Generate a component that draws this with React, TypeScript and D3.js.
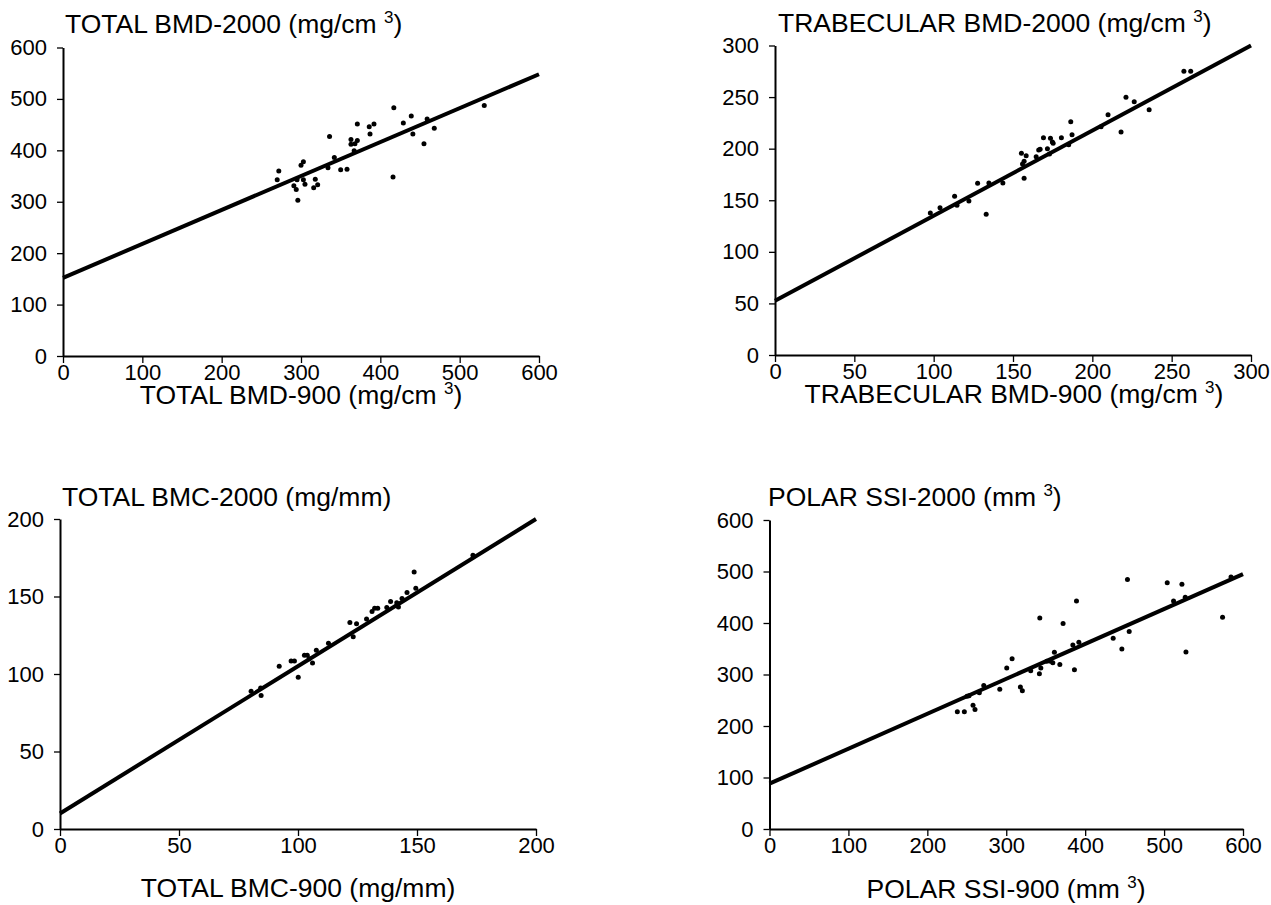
import * as d3 from "d3";
import React, { useEffect, useRef } from "react";

// total BMD (mg/cm3), 900 vs 2000
const totalBmd900 = [417, 531, 439, 429, 459, 371, 386, 392, 387, 441, 468, 336, 363, 371, 363, 368, 455, 342, 303, 300, 334, 350, 358, 272, 270, 295, 303, 318, 291, 305, 321, 294, 316, 296, 416, 367];
const totalBmd2000 = [483, 487, 467, 453, 461, 451, 446, 451, 432, 432, 443, 427, 421, 419, 412, 413, 413, 386, 378, 371, 366, 362, 363, 360, 343, 343, 343, 344, 331, 334, 333, 324, 327, 303, 348, 399];
const totalBmdFit = [[0, 152], [600, 548]];

// trabecular BMD (mg/cm3)
const trabBmd900 = [221.2, 226.4, 235.8, 209.9, 218.1, 205.5, 186.4, 187.2, 185.1, 180.5, 169.2, 173.6, 174.8, 175.3, 171.7, 167.1, 166.2, 173, 164.6, 155.3, 158.3, 157, 156, 157, 127.7, 134.8, 143.6, 113.2, 114.7, 122.2, 104, 97.9, 133.1, 257.7, 262];
const trabBmd2000 = [249.8, 245.5, 237.8, 232.9, 216.1, 221.3, 226.1, 213.5, 203.8, 210.6, 210.6, 210, 206.5, 205.2, 200, 199.4, 198.7, 194.8, 192.2, 195.5, 193.2, 187.7, 185.1, 171.3, 166.4, 166.7, 166.7, 153.8, 145.1, 149.3, 142.8, 137.6, 136.4, 275, 275];
const trabBmdFit = [[0, 52.5], [300, 300]];

// total BMC (mg/mm)
const totalBmc900 = [148.8, 149.5, 145.8, 143.7, 138.9, 141.5, 142.2, 137.3, 132.2, 133.5, 131.1, 128.8, 121.8, 124.6, 123.2, 112.8, 107.7, 103.9, 102.7, 104.7, 106.1, 97.1, 98.5, 92.1, 100.1, 80.3, 84.3, 84.5, 173.5];
const totalBmc2000 = [165.8, 155.4, 152.6, 148.7, 146.8, 145.9, 143.3, 142.9, 142.4, 142.4, 140.3, 135.5, 133.3, 132.5, 124, 119.9, 115.4, 112.1, 112.1, 109.9, 107.1, 108.4, 108.4, 105, 97.9, 88.8, 90.9, 86.2, 176.6];
const totalBmcFit = [[0, 10], [200, 200]];

// polar SSI (mm3)
const polarSsi900 = [453.6, 504, 522.6, 584.8, 512, 526.8, 574.1, 527.7, 389, 342.5, 372, 435.5, 455.8, 446.5, 384.4, 392, 361, 356, 359, 367.9, 386.4, 307.4, 300.6, 343.8, 342, 331, 271.5, 291.8, 317.9, 320.4, 265.9, 252.8, 250.3, 257.9, 260.4, 238, 246.9, 351.4];
const polarSsi2000 = [484.4, 478, 475.3, 489.5, 442.8, 450, 411, 343.6, 442.8, 409.7, 398.8, 370.2, 383.3, 349.4, 357.2, 362.5, 343, 325.5, 323, 319.6, 309.3, 330.7, 312.5, 312.5, 301.6, 307.4, 278.8, 271.6, 275.5, 268.5, 264.6, 258.8, 258, 240.5, 232.2, 227.6, 227.6, 325.5];
const polarSsiFit = [[0, 88], [600, 495]];

const axisMax = [600, 300, 200, 600];
const axisStep = [100, 50, 50, 100];

// [text, superscript, tail]
const yTitles = [
  ["TOTAL BMD-2000 (mg/cm ", "3", ")"],
  ["TRABECULAR BMD-2000 (mg/cm ", "3", ")"],
  ["TOTAL BMC-2000 (mg/mm)", "", ""],
  ["POLAR SSI-2000 (mm ", "3", ")"],
];
const xTitles = [
  ["TOTAL BMD-900 (mg/cm ", "3", ")"],
  ["TRABECULAR BMD-900 (mg/cm ", "3", ")"],
  ["TOTAL BMC-900 (mg/mm)", "", ""],
  ["POLAR SSI-900 (mm ", "3", ")"],
];

const FONT = "'Liberation Sans', Arial, Helvetica, sans-serif";

// plot boxes in page pixels
const boxes = [
  { left: 63, right: 539, top: 47.5, bottom: 356, titleX: 65, titleY: 33, labelX: 301, labelY: 404 },
  { left: 775, right: 1251, top: 45.5, bottom: 355, titleX: 778, titleY: 32, labelX: 1014, labelY: 403 },
  { left: 60, right: 536, top: 519, bottom: 829, titleX: 62, titleY: 506, labelX: 298, labelY: 897 },
  { left: 769.5, right: 1243, top: 520, bottom: 829, titleX: 768, titleY: 506, labelX: 1006, labelY: 898 },
];

const series = [
  { xs: totalBmd900, ys: totalBmd2000, fit: totalBmdFit },
  { xs: trabBmd900, ys: trabBmd2000, fit: trabBmdFit },
  { xs: totalBmc900, ys: totalBmc2000, fit: totalBmcFit },
  { xs: polarSsi900, ys: polarSsi2000, fit: polarSsiFit },
];

function addTitle(g: any, parts: string[], x: number, y: number, anchor: string) {
  const t = g
    .append("text")
    .attr("x", x)
    .attr("y", y)
    .attr("text-anchor", anchor)
    .style("font-family", FONT)
    .style("font-size", "26.5px")
    .style("white-space", "pre")
    .attr("fill", "#000");
  t.append("tspan").text(parts[0]);
  if (parts[1]) {
    t.append("tspan").attr("dy", -10).style("font-size", "17px").text(parts[1]);
    t.append("tspan").attr("dy", 10).text(parts[2]);
  }
}

export default function App() {
  const ref = useRef<SVGSVGElement>(null);

  useEffect(() => {
    const svg = d3.select(ref.current);
    svg.selectAll("*").remove();

    series.forEach((s, i) => {
      const b = boxes[i];
      const max = axisMax[i];
      const ticks = d3.range(0, max + 1, axisStep[i]);
      const x = d3.scaleLinear().domain([0, max]).range([b.left, b.right]);
      const y = d3.scaleLinear().domain([0, max]).range([b.bottom, b.top]);

      const g = svg.append("g");

      const xAxis = g
        .append("g")
        .attr("transform", `translate(0,${b.bottom})`)
        .call(d3.axisBottom(x).tickValues(ticks).tickSize(7).tickSizeOuter(0).tickPadding(1).tickFormat(d3.format("d")));
      const yAxis = g
        .append("g")
        .attr("transform", `translate(${b.left},0)`)
        .call(d3.axisLeft(y).tickValues(ticks).tickSize(6).tickSizeOuter(0).tickPadding(10).tickFormat(d3.format("d")));

      [xAxis, yAxis].forEach((a) => {
        a.select(".domain").attr("stroke", "#000").attr("stroke-width", 2);
        a.selectAll(".tick line").attr("stroke", "#000").attr("stroke-width", 1.3);
        a.selectAll(".tick text").style("font-family", FONT).style("font-size", "22px").attr("fill", "#000");
      });

      // regression line
      const line = d3
        .line<number[]>()
        .x((d) => x(d[0]))
        .y((d) => y(d[1]));
      g.append("path")
        .attr("d", line(s.fit))
        .attr("fill", "none")
        .attr("stroke", "#000")
        .attr("stroke-width", 4);

      g.selectAll("circle.pt")
        .data(s.xs.map((v, k) => [v, s.ys[k]]))
        .enter()
        .append("circle")
        .attr("class", "pt")
        .attr("cx", (d) => x(d[0]))
        .attr("cy", (d) => y(d[1]))
        .attr("r", 2.5)
        .attr("fill", "#000");

      addTitle(g, yTitles[i], b.titleX, b.titleY, "start");
      addTitle(g, xTitles[i], b.labelX, b.labelY, "middle");
    });
  }, []);

  return (
    <svg
      ref={ref}
      width={1271}
      height={905}
      style={{ position: "absolute", left: 0, top: 0, background: "#fff" }}
    ></svg>
  );
}
